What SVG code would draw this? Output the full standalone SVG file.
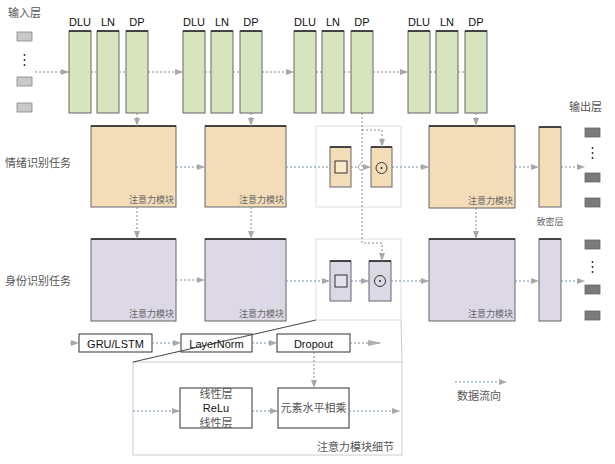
<svg xmlns="http://www.w3.org/2000/svg" width="615" height="464" viewBox="0 0 615 464">
<defs>
<marker id="ah" viewBox="0 0 8 6" refX="8" refY="3" markerWidth="8" markerHeight="6" orient="auto" markerUnits="userSpaceOnUse">
<path d="M0,0 L8,3 L0,6 Z" fill="#a8a8a8"/>
</marker>
<marker id="ahb" viewBox="0 0 14 6" refX="14" refY="3" markerWidth="14" markerHeight="6" orient="auto" markerUnits="userSpaceOnUse">
<path d="M0,0 L14,3 L0,6 Z" fill="#b0b0b0"/>
</marker>
<style>
.g{fill:#d7e4bd;stroke:#666;stroke-width:1}
.o{fill:#f3ddb9;stroke:#666;stroke-width:1}
.p{fill:#dcd8e6;stroke:#666;stroke-width:1}
.top{stroke:#222;stroke-width:1.5}
.jb{fill:#fff;stroke:#ddd;stroke-width:1}
.w{fill:#fff;stroke:#333;stroke-width:1}
.in{fill:#c9c9c9;stroke:#888;stroke-width:0.8}
.out{fill:#7a7a7a;stroke:#666;stroke-width:0.8}
.fl{fill:none;stroke:#6f8fb2;stroke-width:1;stroke-dasharray:2 2}
.fg{fill:none;stroke:#8a8a8a;stroke-width:1;stroke-dasharray:2 2}
.lat{font-family:"Liberation Sans",Arial,sans-serif;font-size:11px;fill:#111}
.cn{font-family:"Noto Sans CJK SC",sans-serif;font-size:11px;fill:#555}
.cs{font-family:"Noto Sans CJK SC",sans-serif;font-size:9px;fill:#666}
</style>
</defs>

<g id="labels">
<text class="cn" x="8" y="17">输入层</text>
<text class="cn" x="5" y="167">情绪识别任务</text>
<text class="cn" x="5" y="285">身份识别任务</text>
<text class="cn" x="569" y="111">输出层</text>
<text class="cs" x="550" y="225" text-anchor="middle">致密层</text>
</g>

<g id="input-layer">
<rect class="in" x="17" y="32" width="15" height="9"/>
<rect class="in" x="17" y="77" width="15" height="9"/>
<rect class="in" x="17" y="103" width="15" height="9"/>
<circle cx="24.5" cy="55" r="0.9" fill="#222"/>
<circle cx="24.5" cy="60" r="0.9" fill="#222"/>
<circle cx="24.5" cy="65" r="0.9" fill="#222"/>
</g>

<g id="output-layer">
<rect class="out" x="585" y="128" width="15" height="9"/>
<rect class="out" x="585" y="173" width="15" height="9"/>
<rect class="out" x="585" y="198" width="15" height="9"/>
<circle cx="592.5" cy="148" r="0.9" fill="#222"/>
<circle cx="592.5" cy="153" r="0.9" fill="#222"/>
<circle cx="592.5" cy="158" r="0.9" fill="#222"/>
<rect class="out" x="585" y="240" width="15" height="9"/>
<rect class="out" x="585" y="285" width="15" height="9"/>
<rect class="out" x="585" y="311" width="15" height="9"/>
<circle cx="592.5" cy="262" r="0.9" fill="#222"/>
<circle cx="592.5" cy="267" r="0.9" fill="#222"/>
<circle cx="592.5" cy="272" r="0.9" fill="#222"/>
</g>

<g id="encoder1">
<text class="lat" x="80" y="26" text-anchor="middle">DLU</text>
<text class="lat" x="108" y="26" text-anchor="middle">LN</text>
<text class="lat" x="137" y="26" text-anchor="middle">DP</text>
<rect class="g" x="69" y="31" width="22" height="82"/><line class="top" x1="69" y1="31" x2="91" y2="31"/>
<rect class="g" x="97" y="31" width="22" height="82"/><line class="top" x1="97" y1="31" x2="119" y2="31"/>
<rect class="g" x="126" y="31" width="22" height="82"/><line class="top" x1="126" y1="31" x2="148" y2="31"/>
</g>
<g id="encoder2">
<text class="lat" x="194" y="26" text-anchor="middle">DLU</text>
<text class="lat" x="222" y="26" text-anchor="middle">LN</text>
<text class="lat" x="251" y="26" text-anchor="middle">DP</text>
<rect class="g" x="183" y="31" width="22" height="82"/><line class="top" x1="183" y1="31" x2="205" y2="31"/>
<rect class="g" x="211" y="31" width="22" height="82"/><line class="top" x1="211" y1="31" x2="233" y2="31"/>
<rect class="g" x="240" y="31" width="22" height="82"/><line class="top" x1="240" y1="31" x2="262" y2="31"/>
</g>
<g id="encoder3">
<text class="lat" x="305" y="26" text-anchor="middle">DLU</text>
<text class="lat" x="333" y="26" text-anchor="middle">LN</text>
<text class="lat" x="362" y="26" text-anchor="middle">DP</text>
<rect class="g" x="294" y="31" width="22" height="82"/><line class="top" x1="294" y1="31" x2="316" y2="31"/>
<rect class="g" x="322" y="31" width="22" height="82"/><line class="top" x1="322" y1="31" x2="344" y2="31"/>
<rect class="g" x="351" y="31" width="22" height="82"/><line class="top" x1="351" y1="31" x2="373" y2="31"/>
</g>
<g id="encoder4">
<text class="lat" x="419" y="26" text-anchor="middle">DLU</text>
<text class="lat" x="447" y="26" text-anchor="middle">LN</text>
<text class="lat" x="476" y="26" text-anchor="middle">DP</text>
<rect class="g" x="408" y="31" width="22" height="82"/><line class="top" x1="408" y1="31" x2="430" y2="31"/>
<rect class="g" x="436" y="31" width="22" height="82"/><line class="top" x1="436" y1="31" x2="458" y2="31"/>
<rect class="g" x="465" y="31" width="22" height="82"/><line class="top" x1="465" y1="31" x2="487" y2="31"/>
</g>

<g id="emotion-att1">
<rect class="o" x="91" y="126" width="85" height="81"/><line class="top" x1="91" y1="126" x2="176" y2="126"/>
<text class="cs" x="174" y="203" text-anchor="end">注意力模块</text>
</g>
<g id="emotion-att2">
<rect class="o" x="205" y="126" width="81" height="81"/><line class="top" x1="205" y1="126" x2="286" y2="126"/>
<text class="cs" x="284" y="203" text-anchor="end">注意力模块</text>
</g>
<g id="emotion-junction">
<rect class="jb" x="316" y="126" width="85" height="81"/>
<rect class="o" x="330" y="147" width="21" height="40"/><line class="top" x1="330" y1="147" x2="351" y2="147"/>
<rect x="335" y="161" width="12" height="12" fill="#fbe9cc" stroke="#333" stroke-width="1"/>
<rect class="o" x="371" y="147" width="21" height="40"/><line class="top" x1="371" y1="147" x2="392" y2="147"/>
<circle cx="381.5" cy="168" r="5.5" fill="none" stroke="#333" stroke-width="1"/>
<circle cx="381.5" cy="168" r="1" fill="#222"/>
</g>
<g id="emotion-att3">
<rect class="o" x="429" y="126" width="86" height="82"/><line class="top" x1="429" y1="126" x2="515" y2="126"/>
<text class="cs" x="513" y="204" text-anchor="end">注意力模块</text>
</g>
<g id="emotion-dense">
<rect class="o" x="539" y="127" width="22" height="80"/><line class="top" x1="539" y1="127" x2="561" y2="127"/>
</g>

<g id="identity-att1">
<rect class="p" x="91" y="239" width="85" height="82"/><line class="top" x1="91" y1="239" x2="176" y2="239"/>
<text class="cs" x="174" y="317" text-anchor="end">注意力模块</text>
</g>
<g id="identity-att2">
<rect class="p" x="205" y="239" width="81" height="82"/><line class="top" x1="205" y1="239" x2="286" y2="239"/>
<text class="cs" x="284" y="317" text-anchor="end">注意力模块</text>
</g>
<g id="identity-junction">
<rect class="jb" x="316" y="239" width="85" height="81"/>
<rect class="p" x="330" y="261" width="21" height="40"/><line class="top" x1="330" y1="261" x2="351" y2="261"/>
<rect x="335" y="275" width="12" height="12" fill="#e4e0ec" stroke="#333" stroke-width="1"/>
<rect class="p" x="369" y="261" width="22" height="40"/><line class="top" x1="369" y1="261" x2="391" y2="261"/>
<circle cx="380" cy="281" r="5.5" fill="none" stroke="#333" stroke-width="1"/>
<circle cx="380" cy="281" r="1" fill="#222"/>
</g>
<g id="identity-att3">
<rect class="p" x="429" y="239" width="86" height="82"/><line class="top" x1="429" y1="239" x2="515" y2="239"/>
<text class="cs" x="513" y="317" text-anchor="end">注意力模块</text>
</g>
<g id="identity-dense">
<rect class="p" x="539" y="239" width="22" height="82"/><line class="top" x1="539" y1="239" x2="561" y2="239"/>
</g>

<g id="lens">
<line x1="401" y1="320" x2="402" y2="362" stroke="#ccc" stroke-width="1"/>
<rect x="133" y="362" width="269" height="93" fill="none" stroke="#ccc" stroke-width="1"/>
</g>

<g id="gru">
<rect class="w" x="79" y="334" width="73" height="18"/>
<text class="lat" x="115.5" y="347.5" text-anchor="middle" font-size="12">GRU/LSTM</text>
</g>
<g id="layernorm">
<rect class="w" x="181" y="334" width="71" height="18"/>
<text class="lat" x="216.5" y="347.5" text-anchor="middle" font-size="12">LayerNorm</text>
</g>
<g id="dropout">
<rect class="w" x="277" y="334" width="73" height="18"/>
<text class="lat" x="313.5" y="347.5" text-anchor="middle" font-size="12">Dropout</text>
</g>
<line x1="316" y1="320" x2="133" y2="362" stroke="#444" stroke-width="1"/>

<g id="linear-relu">
<rect class="w" x="180" y="388" width="72" height="40"/>
<text class="cn" x="216" y="397.5" text-anchor="middle" font-size="10">线性层</text>
<text class="lat" x="216" y="412" text-anchor="middle" font-size="11.5">ReLu</text>
<text class="cn" x="216" y="426.5" text-anchor="middle" font-size="10">线性层</text>
</g>
<g id="elementwise">
<rect class="w" x="278" y="388" width="71" height="40"/>
<text class="cn" x="313.5" y="412" text-anchor="middle">元素水平相乘</text>
</g>
<text class="cn" x="394" y="451" text-anchor="end">注意力模块细节</text>

<g id="legend">
<line class="fl" x1="455" y1="382" x2="507" y2="382" marker-end="url(#ah)"/>
<text class="cn" x="457" y="400">数据流向</text>
</g>

<g id="connectors">
<line class="fg" x1="35" y1="72" x2="69" y2="72" marker-end="url(#ah)"/>
<line class="fg" x1="91" y1="72" x2="97" y2="72"/>
<line class="fg" x1="119" y1="72" x2="126" y2="72"/>
<line class="fg" x1="148" y1="72" x2="183" y2="72" marker-end="url(#ah)"/>
<line class="fg" x1="205" y1="72" x2="211" y2="72"/>
<line class="fg" x1="233" y1="72" x2="240" y2="72"/>
<line class="fg" x1="262" y1="72" x2="294" y2="72" marker-end="url(#ah)"/>
<line class="fg" x1="316" y1="72" x2="322" y2="72"/>
<line class="fg" x1="344" y1="72" x2="351" y2="72"/>
<line class="fg" x1="373" y1="72" x2="408" y2="72" marker-end="url(#ah)"/>
<line class="fg" x1="430" y1="72" x2="436" y2="72"/>
<line class="fg" x1="458" y1="72" x2="465" y2="72"/>

<line class="fg" x1="137" y1="113" x2="137" y2="126" marker-end="url(#ah)"/>
<line class="fg" x1="251" y1="113" x2="251" y2="126" marker-end="url(#ah)"/>
<line class="fg" x1="476" y1="113" x2="476" y2="126" marker-end="url(#ah)"/>
<path class="fg" d="M362,113 V243 H382 V261" marker-end="url(#ah)"/>
<path class="fg" d="M362,130 H382 V147" marker-end="url(#ah)"/>

<line class="fl" x1="176" y1="167" x2="205" y2="167" marker-end="url(#ah)"/>
<line class="fl" x1="286" y1="167" x2="330" y2="167"/>
<path class="fg" d="M351,167 H358 M366,167 H371" marker-end="url(#ah)"/>
<path d="M358,167 L361,163 M358,167 L361,171" fill="none" stroke="#999" stroke-width="0.8"/>
<line class="fl" x1="392" y1="167" x2="429" y2="167" marker-end="url(#ah)"/>
<line class="fl" x1="515" y1="167" x2="539" y2="167" marker-end="url(#ah)"/>
<line class="fg" x1="561" y1="167" x2="585" y2="167" marker-end="url(#ah)"/>

<line class="fl" x1="137" y1="207" x2="137" y2="239" marker-end="url(#ah)"/>
<line class="fl" x1="251" y1="207" x2="251" y2="239" marker-end="url(#ah)"/>
<line class="fl" x1="476" y1="208" x2="476" y2="239" marker-end="url(#ah)"/>

<line class="fl" x1="176" y1="280" x2="205" y2="280" marker-end="url(#ah)"/>
<line class="fl" x1="286" y1="281" x2="330" y2="281" marker-end="url(#ah)"/>
<line class="fl" x1="351" y1="281" x2="369" y2="281" marker-end="url(#ah)"/>
<line class="fl" x1="391" y1="281" x2="429" y2="281" marker-end="url(#ah)"/>
<line class="fl" x1="515" y1="281" x2="539" y2="281" marker-end="url(#ah)"/>
<line class="fl" x1="561" y1="281" x2="585" y2="281" marker-end="url(#ah)"/>

<line class="fg" x1="70" y1="343" x2="79" y2="343" marker-end="url(#ah)"/>
<line class="fl" x1="152" y1="343" x2="181" y2="343" marker-end="url(#ah)"/>
<line class="fl" x1="252" y1="343" x2="277" y2="343" marker-end="url(#ah)"/>
<line class="fg" x1="350" y1="343" x2="382" y2="343" marker-end="url(#ahb)"/>
<line class="fl" x1="314" y1="352" x2="314" y2="388" marker-end="url(#ah)"/>

<line class="fl" x1="133" y1="411" x2="180" y2="411" marker-end="url(#ah)"/>
<line class="fl" x1="252" y1="411" x2="278" y2="411" marker-end="url(#ah)"/>
<line class="fl" x1="349" y1="411" x2="400" y2="411" marker-end="url(#ah)"/>
</g>
</svg>
